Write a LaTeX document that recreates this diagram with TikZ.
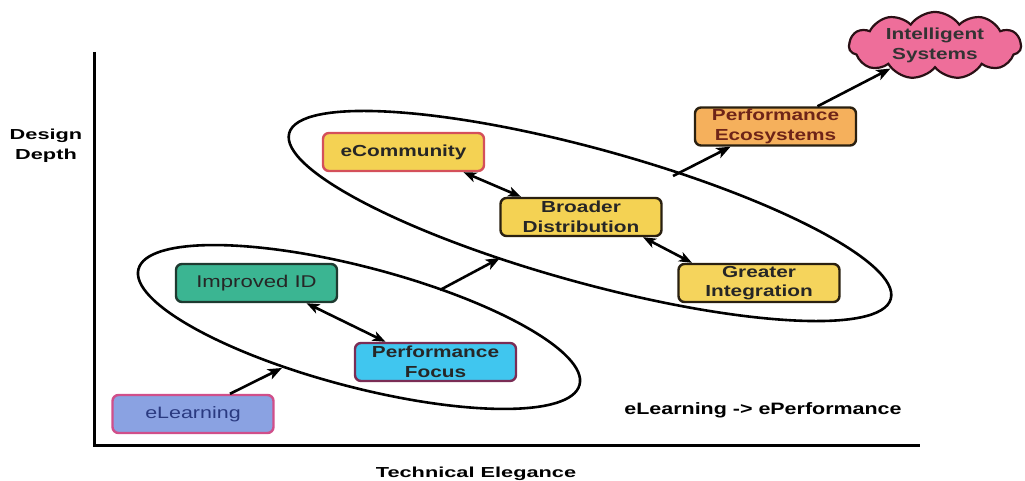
\documentclass[tikz,border=0pt]{standalone}
\usepackage{fontspec}
\setmainfont[FakeStretch=1.3]{Liberation Sans}
\newfontfamily\widefont[FakeStretch=1.5]{Liberation Sans}
\usetikzlibrary{shapes.symbols,arrows.meta}

\definecolor{learnfill}{HTML}{8AA2E2}
\definecolor{learnline}{HTML}{D04F8A}
\definecolor{learntext}{HTML}{2A3A80}
\definecolor{idfill}{HTML}{3BB592}
\definecolor{idline}{HTML}{1E3A30}
\definecolor{focusfill}{HTML}{40C6EF}
\definecolor{focusline}{HTML}{7A2D55}
\definecolor{yellowfill}{HTML}{F4D253}
\definecolor{commline}{HTML}{D4505A}
\definecolor{darkline}{HTML}{2A2010}
\definecolor{ecofill}{HTML}{F5B05C}
\definecolor{ecotext}{HTML}{6E2418}
\definecolor{cloudfill}{HTML}{EE6E9A}
\definecolor{cloudline}{HTML}{2A1015}

\begin{document}
\begin{tikzpicture}[x=1pt,y=-1pt,
  labelfont/.style={font=\fontsize{16}{19.5}\selectfont\bfseries},
  stage/.style={draw, rounded corners=6pt, line width=2.4pt,
    minimum width=161pt, minimum height=38pt, inner sep=0pt,
    align=center, labelfont, text=black!85},
  loop/.style={draw=black, line width=2.6pt},
  axis/.style={line width=3pt, line join=miter},
  onearrow/.style={line width=2.6pt, -{Stealth[length=14pt,width=11pt,inset=3.5pt]}},
  twoarrow/.style={line width=2.6pt,
    {Stealth[length=13pt,width=10pt,inset=3.5pt]}-{Stealth[length=13pt,width=10pt,inset=3.5pt]}},
  axislabel/.style={align=center, font=\widefont\fontsize{14.5}{20}\selectfont\bfseries}]

\useasboundingbox (0,0) rectangle (1025,481);

% axes
\coordinate (ytop) at (94,52);
\coordinate (origin) at (94,445);
\coordinate (xend) at (920,445);
\draw[axis] (ytop) -- (origin) -- (xend);

\node[axislabel] (ylab) at (46,146) {Design\\Depth};
\node[axislabel] (xlab) at (476,474) {Technical Elegance};
\node[font=\fontsize{16.5}{20}\selectfont\bfseries] (motto) at (763,410)
  {eLearning -> ePerformance};

% the two groupings
\draw[loop, rotate around={-14.7:(359,327)}] (359,327) ellipse [x radius=228, y radius=60];
\draw[loop, rotate around={-15.4:(590,216)}] (590,216) ellipse [x radius=312, y radius=67];

% stages
\node[stage, fill=learnfill, draw=learnline, text=learntext,
      font=\fontsize{16.5}{19.5}\selectfont] (elearn) at (193,414) {eLearning};
\node[stage, fill=idfill, draw=idline,
      font=\fontsize{17}{19.5}\selectfont] (impid) at (256.5,283) {Improved ID};
\node[stage, fill=focusfill, draw=focusline] (focus) at (435.5,362) {Performance\\Focus};
\node[stage, fill=yellowfill, draw=commline] (ecomm) at (403.5,152) {eCommunity};
\node[stage, fill=yellowfill, draw=darkline] (broad) at (581,217) {Broader\\Distribution};
\node[stage, fill=yellowfill!95!white, draw=darkline] (greater) at (759,283) {Greater\\Integration};
\node[stage, fill=ecofill, draw=darkline, text=ecotext] (ecosys) at (775.5,126.5)
  {Performance\\Ecosystems};
\node[cloud, cloud puffs=11, cloud puff arc=110, cloud ignores aspect,
      minimum width=172pt, minimum height=62pt, inner sep=0pt,
      draw=cloudline, line width=2.2pt, fill=cloudfill, align=center,
      labelfont, text=black!80] (smart) at (935,45.5) {Intelligent\\Systems};

% free ends on the groupings
\coordinate (lowin) at (282,368);
\coordinate (lowout) at (440,290);
\coordinate (upin) at (500,258);
\coordinate (upout) at (673,176);

% connectors
\draw[onearrow] ([xshift=37pt]elearn.north) -- (lowin);
\draw[twoarrow] ([xshift=50pt]impid.south) -- ([xshift=-50pt]focus.north);
\draw[onearrow] (lowout) -- (upin);
\draw[twoarrow] ([xshift=60pt]ecomm.south) -- ([xshift=-60pt]broad.north);
\draw[twoarrow] ([xshift=62pt]broad.south) -- ([xshift=-67pt]greater.north);
\draw[onearrow] (upout) -- ([xshift=-45pt]ecosys.south);
\draw[onearrow] ([xshift=42pt]ecosys.north) -- (smart);

\end{tikzpicture}
\end{document}
